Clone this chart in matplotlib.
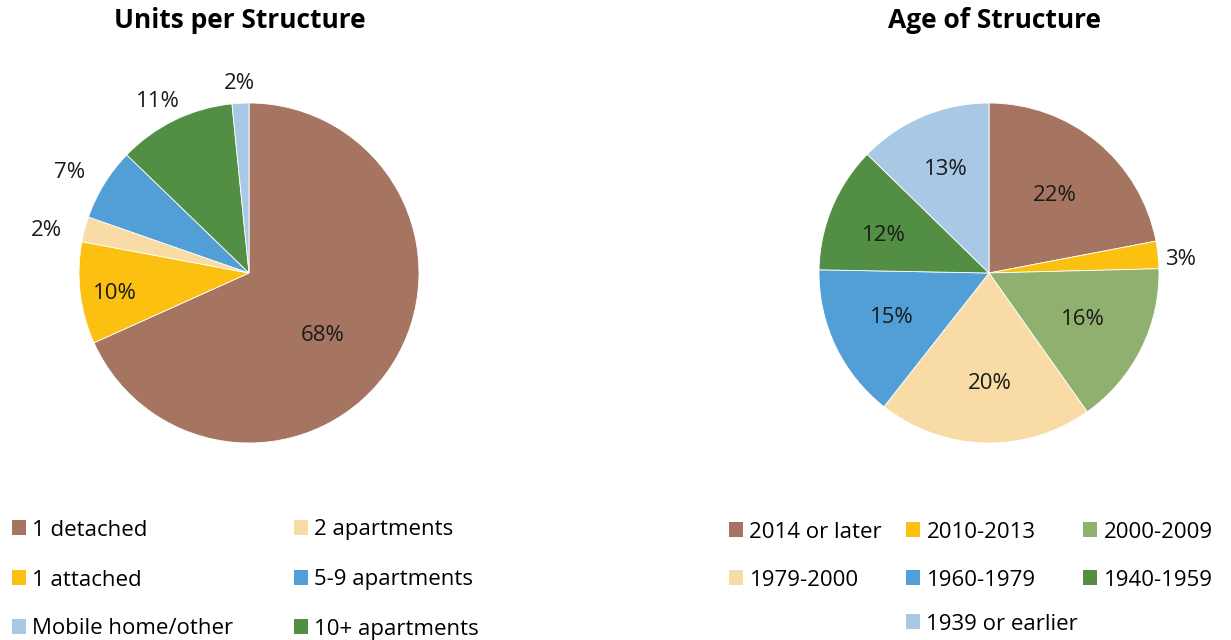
import numpy as np
import matplotlib.pyplot as plt
from matplotlib.patches import Patch

plt.rcParams['font.family'] = ['Open Sans', 'DejaVu Sans']

# Datos - Units per Structure
unidades = ['1 detached', '1 attached', '2 apartments', '5-9 apartments', '10+ apartments', 'Mobile home/other']
unidades_pct = [68.4, 9.7, 2.4, 6.9, 11.2, 1.6]

# Datos - Age of Structure
edades = ['2014 or later', '2010-2013', '2000-2009', '1979-2000', '1960-1979', '1940-1959', '1939 or earlier']
edades_pct = [22.0, 2.6, 15.6, 20.4, 14.7, 12.0, 12.7]

# Colores
col_unidades = ['#A67561', '#FBC010', '#F8DBA5', '#519FD6', '#538E45', '#A9C8E6']
col_edades = ['#A67561', '#FBC010', '#8FB06E', '#F8DBA5', '#519FD6', '#538E45', '#A9C8E6']

# Etiquetas: distancia (fraccion del radio) y ajuste de angulo (grados)
r_unidades = [0.56, 0.795, 1.22, 1.215, 1.16, 1.134]
a_unidades = [-6.1, 0.4, 2.1, 1.7, 1.6, 0.1]
r_edades = [0.612, 1.128, 0.609, 0.635, 0.625, 0.661, 0.676]
a_edades = [0.2, -1.3, 1.8, 1.7, -2.1, 1.8, -0.9]

# Posicion de cada entrada de leyenda (fila, columna)
celdas_unidades = [(0, 0), (1, 0), (0, 1), (1, 1), (2, 1), (2, 0)]
celdas_edades = [(0, 0), (0, 1), (0, 2), (1, 0), (1, 1), (1, 2), (2, 1)]

W, H = 1231, 640
FS = 16
fig = plt.figure(figsize=(W / 100, H / 100), dpi=100)


def ejes(cx, cy, r):
    ax = fig.add_axes([(cx - r) / W, (H - cy - r) / H, 2 * r / W, 2 * r / H])
    return ax


def pastel(ax, valores, colores, radios, ajustes):
    wedges, _ = ax.pie(valores, colors=colores, startangle=90, counterclock=False,
                       radius=1, wedgeprops=dict(edgecolor='white', linewidth=0.6))
    ax.set_xlim(-1, 1)
    ax.set_ylim(-1, 1)
    ax.set_axis_off()
    for w, v, rr, da in zip(wedges, valores, radios, ajustes):
        ang = np.radians((w.theta1 + w.theta2) / 2 + da)
        ax.annotate('%.0f%%' % v, (rr * np.cos(ang), rr * np.sin(ang)), xytext=(0, -3),
                    textcoords='offset pixels', ha='center', va='center',
                    fontsize=FS, color='#1a1a1a', annotation_clip=False)
    return wedges


def leyenda(nombres, colores, celdas, xs, ys):
    for n, c, (f, k) in zip(nombres, colores, celdas):
        fig.legend([Patch(facecolor=c)], [n], loc='center left',
                   bbox_to_anchor=(xs[k] / W, 1 - ys[f] / H), frameon=False, fontsize=FS,
                   handlelength=0.62, handleheight=0.62, handletextpad=0.3,
                   borderpad=0, borderaxespad=0)


ax1 = ejes(249, 273, 170)
w1 = pastel(ax1, unidades_pct, col_unidades, r_unidades, a_unidades)
ax2 = ejes(989, 273, 170)
w2 = pastel(ax2, edades_pct, col_edades, r_edades, a_edades)

fig.text(240 / W, 1 - 21 / H, 'Units per Structure', ha='center', va='center',
         fontsize=19, fontweight='bold')
fig.text(994 / W, 1 - 21 / H, 'Age of Structure', ha='center', va='center',
         fontsize=19, fontweight='bold')

leyenda(unidades, col_unidades, celdas_unidades, [12, 294], [530, 580, 629])
leyenda(edades, col_edades, celdas_edades, [729, 906, 1083], [532, 580, 624])

fig.savefig('out.png', dpi=100)
